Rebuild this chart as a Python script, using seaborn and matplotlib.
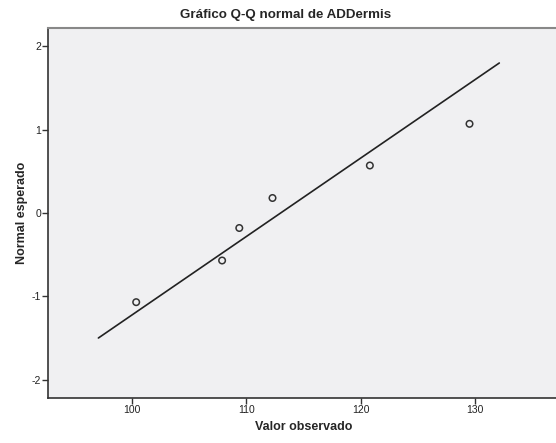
import matplotlib
matplotlib.use('Agg')
import matplotlib.pyplot as plt
import seaborn as sns
import pandas as pd

observed = [100.4, 107.9, 109.4, 112.3, 120.8, 129.5]
expected = [-1.07, -0.57, -0.18, 0.18, 0.57, 1.07]

# reference line end points
line_x = [97.1, 132.1]
line_y = [-1.50, 1.80]

x_ticks = [100, 110, 120, 130]
y_ticks = [-2, -1, 0, 1, 2]

sns.set_style('ticks')
plt.rcParams['font.family'] = ['Liberation Sans', 'DejaVu Sans']
plt.rcParams['axes.unicode_minus'] = False

pts = pd.DataFrame({'obs': observed, 'exp': expected})
ref = pd.DataFrame({'x': line_x, 'y': line_y})

fig = plt.figure(figsize=(5.56, 4.43), dpi=100)
ax = fig.add_axes([48 / 556, 45 / 443, 512 / 556, 370 / 443])
ax.set_facecolor('#F0F0F2')

sns.lineplot(data=ref, x='x', y='y', ax=ax, color='#222222', linewidth=1.2)
sns.scatterplot(data=pts, x='obs', y='exp', ax=ax, marker='o', s=22,
                facecolor='none', edgecolor='#333333', linewidth=1.1, zorder=3)

ax.set_xlim(92.7, 137.4)
ax.set_ylim(-2.22, 2.22)
ax.set_xticks(x_ticks)
ax.set_yticks(y_ticks)
ax.tick_params(axis='both', direction='out', length=4, width=1,
               color='#333333', labelsize=7.5, labelcolor='#222222', pad=1)

for side in ['left', 'bottom']:
    ax.spines[side].set_color('#333333')
    ax.spines[side].set_linewidth(1.2)
ax.spines['top'].set_visible(True)
ax.spines['top'].set_color('#888888')
ax.spines['top'].set_linewidth(1.5)
ax.spines['right'].set_visible(False)

ax.set_xlabel('Valor observado', fontsize=9, fontweight='bold', labelpad=4)
ax.set_ylabel('Normal esperado', fontsize=9, fontweight='bold', labelpad=3)
fig.text(0.5 + 8 / 556, 1 - 15 / 443, 'Gráfico Q-Q normal de ADDermis',
         ha='center', va='center', fontsize=9.6, fontweight='bold')

plt.savefig('out.png', dpi=100)
plt.close()
